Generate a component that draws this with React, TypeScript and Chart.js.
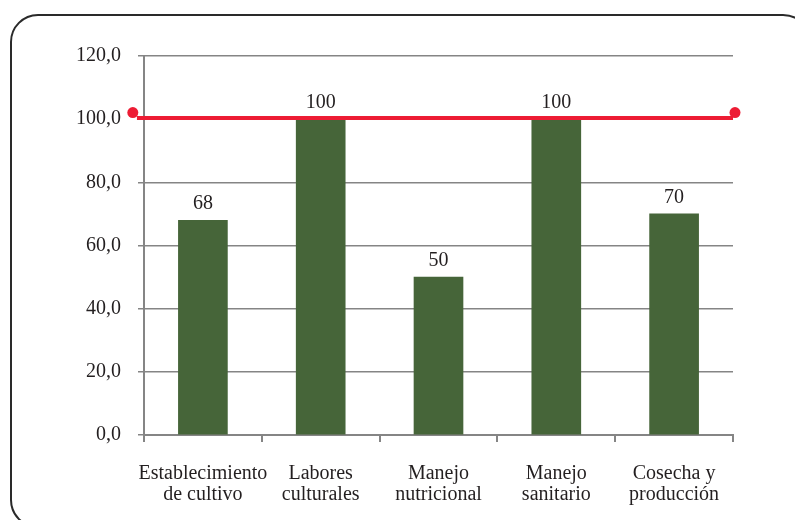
import React, { useEffect, useRef } from "react";
import { Chart, registerables } from "chart.js";

Chart.register(...registerables);

const categories: string[][] = [
  ["Establecimiento", "de cultivo"],
  ["Labores", "culturales"],
  ["Manejo", "nutricional"],
  ["Manejo", "sanitario"],
  ["Cosecha y", "producción"],
];
const values: number[] = [68, 100, 50, 100, 70];
const dataLabels: string[] = ["68", "100", "50", "100", "70"];
const refLineX: number[] = [-0.06, 5.0];
const refLineY: number[] = [100.4, 100.4];
const refDotX: number[] = [-0.095, 5.017];
const refDotY: number[] = [102.1, 102.1];
const yMin = 0;
const yMax = 120;
const yStep = 20;

const FONT = "'Liberation Serif', 'DejaVu Serif', serif";
const TEXT = "#231f20";
const GREEN = "#466539";
const RED = "#ed1c34";
const GRID = "#858585";

const labelPlugin = {
  id: "barLabels",
  afterDatasetsDraw(chart: any) {
    const ctx = chart.ctx;
    const meta = chart.getDatasetMeta(0);
    ctx.save();
    ctx.font = `20px ${FONT}`;
    ctx.fillStyle = TEXT;
    ctx.textAlign = "center";
    ctx.textBaseline = "alphabetic";
    meta.data.forEach((el: any, i: number) => {
      ctx.fillText(dataLabels[i], el.x, el.y - 11);
    });
    // end markers of the reference line (drawn outside the chart area)
    const dots = chart.getDatasetMeta(2);
    ctx.fillStyle = RED;
    dots.data.forEach((el: any) => {
      ctx.beginPath();
      ctx.arc(el.x, el.y, 5.5, 0, Math.PI * 2);
      ctx.fill();
    });
    ctx.restore();
  },
};

export default function App() {
  const ref = useRef<HTMLCanvasElement>(null);
  useEffect(() => {
    if (!ref.current) return;
    const chart = new Chart(ref.current, {
      type: "bar",
      data: {
        labels: categories,
        datasets: [
          {
            type: "bar",
            data: values,
            backgroundColor: GREEN,
            barThickness: 49,
            grouped: false,
            xAxisID: "x",
            order: 2,
          } as any,
          {
            type: "line",
            data: refLineX.map((x, i) => ({ x, y: refLineY[i] })),
            borderColor: RED,
            borderWidth: 4,
            pointRadius: 0,
            xAxisID: "x2",
            clip: false,
            order: 1,
          } as any,
          {
            type: "line",
            data: refDotX.map((x, i) => ({ x, y: refDotY[i] })),
            showLine: false,
            pointRadius: 0,
            borderWidth: 0,
            xAxisID: "x2",
            clip: false,
            order: 0,
          } as any,
        ],
      },
      options: {
        animation: false,
        responsive: false,
        maintainAspectRatio: false,
        layout: { padding: { left: 0, right: 62, top: 56, bottom: 0 } },
        plugins: {
          legend: { display: false },
          tooltip: { enabled: false },
        },
        scales: {
          x: {
            type: "category",
            afterFit: (s: any) => {
              s.height = 85;
            },
            grid: {
              offset: true,
              drawOnChartArea: false,
              drawTicks: true,
              tickLength: 7,
              color: GRID,
              lineWidth: 2,
            },
            border: { display: true, color: GRID, width: 2 },
            ticks: {
              color: TEXT,
              font: { family: FONT, size: 20, lineHeight: 1.05 },
              padding: 21,
              maxRotation: 0,
              autoSkip: false,
            },
          },
          x2: {
            type: "linear",
            display: false,
            offset: false,
            min: 0,
            max: 5,
          },
          y: {
            min: yMin,
            max: yMax,
            afterFit: (s: any) => {
              s.width = 144;
            },
            grid: {
              color: GRID,
              lineWidth: 1.5,
              tickLength: 6,
              drawTicks: true,
            },
            border: { display: true, color: GRID, width: 2 },
            ticks: {
              stepSize: yStep,
              color: TEXT,
              padding: 17,
              font: { family: FONT, size: 20 },
              callback: (v: any) => Number(v).toFixed(1).replace(".", ","),
            },
          },
        },
      } as any,
      plugins: [labelPlugin],
    });
    return () => chart.destroy();
  }, []);

  return (
    <div
      style={{
        position: "fixed",
        left: 0,
        top: 0,
        width: 795,
        height: 520,
        overflow: "hidden",
        background: "#fff",
      }}
    >
      <div
        style={{
          position: "absolute",
          left: 10,
          top: 14,
          width: 797,
          height: 510,
          border: "2px solid #2a2a2a",
          borderRadius: 28,
        }}
      />
      <canvas
        ref={ref}
        width={795}
        height={520}
        style={{ position: "absolute", left: 0, top: 0 }}
      />
    </div>
  );
}
